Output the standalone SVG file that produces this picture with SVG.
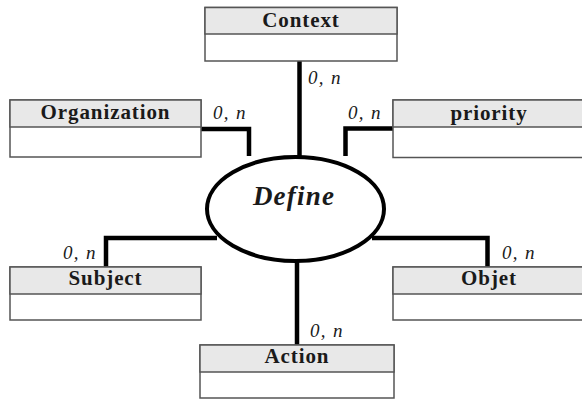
<svg xmlns="http://www.w3.org/2000/svg" width="582" height="399" viewBox="0 0 582 399">
  <style>
    .frame { fill: #ffffff; stroke: #555555; stroke-width: 1.5; }
    .head { fill: #e8e8e8; stroke: #555555; stroke-width: 1.5; }
    .title { font-family: "Liberation Serif", "DejaVu Serif", serif; font-weight: bold; font-size: 21px; letter-spacing: 0.9px; text-anchor: middle; fill: #1a1a1a; }
    .card { font-family: "Liberation Serif", "DejaVu Serif", serif; font-style: italic; font-size: 19px; letter-spacing: 1.3px; fill: #1a1a1a; }
    .link { fill: none; stroke: #000000; stroke-width: 4.5; stroke-linejoin: miter; }
    .assoc { fill: #ffffff; stroke: #000000; stroke-width: 4; }
    .assoc-label { font-family: "Liberation Serif", "DejaVu Serif", serif; font-style: italic; font-weight: bold; font-size: 27px; letter-spacing: 1.2px; text-anchor: middle; fill: #1a1a1a; }
  </style>

  <!-- association links -->
  <g id="connectors">
    <path class="link" d="M299.5 61 V157"/>
    <path class="link" d="M201 129 H249 V156"/>
    <path class="link" d="M393 128.5 H345.5 V156"/>
    <path class="link" d="M106 267 V238 H217"/>
    <path class="link" d="M487.5 267 V238 H372"/>
    <path class="link" d="M297 261 V345"/>
  </g>

  <!-- cardinalities -->
  <g id="cardinalities">
    <text class="card" x="308" y="84">0, n</text>
    <text class="card" x="213" y="119">0, n</text>
    <text class="card" x="348" y="119">0, n</text>
    <text class="card" x="63" y="259">0, n</text>
    <text class="card" x="502" y="259">0, n</text>
    <text class="card" x="310" y="337">0, n</text>
  </g>

  <!-- association -->
  <g id="define">
    <ellipse class="assoc" cx="295.5" cy="209" rx="88.5" ry="52"/>
    <text class="assoc-label" x="294" y="205">Define</text>
  </g>

  <!-- entities -->
  <g id="context">
    <rect class="frame" x="205" y="7.5" width="192" height="53.5"/>
    <rect class="head" x="205" y="7.5" width="192" height="26.5"/>
    <text class="title" x="301" y="27">Context</text>
  </g>

  <g id="organization">
    <rect class="frame" x="10" y="100" width="191" height="57"/>
    <rect class="head" x="10" y="100" width="191" height="27"/>
    <text class="title" x="105.5" y="119">Organization</text>
  </g>

  <g id="priority">
    <rect class="frame" x="393" y="100" width="192" height="57.5"/>
    <rect class="head" x="393" y="100" width="192" height="27"/>
    <text class="title" x="489" y="120">priority</text>
  </g>

  <g id="subject">
    <rect class="frame" x="10" y="267" width="191" height="53"/>
    <rect class="head" x="10" y="267" width="191" height="27"/>
    <text class="title" x="105.5" y="285">Subject</text>
  </g>

  <g id="objet">
    <rect class="frame" x="393" y="267" width="192" height="53"/>
    <rect class="head" x="393" y="267" width="192" height="27"/>
    <text class="title" x="489" y="285">Objet</text>
  </g>

  <g id="action">
    <rect class="frame" x="200" y="345" width="194" height="53"/>
    <rect class="head" x="200" y="345" width="194" height="27"/>
    <text class="title" x="297" y="363">Action</text>
  </g>
</svg>
